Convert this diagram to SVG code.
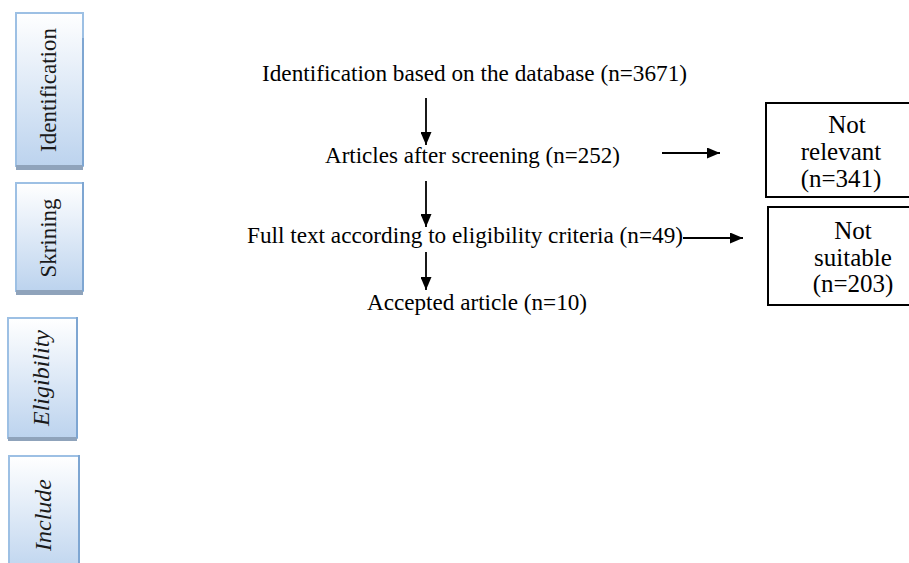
<svg xmlns="http://www.w3.org/2000/svg" width="909" height="563" viewBox="0 0 909 563">
  <defs>
    <linearGradient id="phaseFill" x1="0" y1="0" x2="0" y2="1">
      <stop offset="0" stop-color="#ffffff"/>
      <stop offset="1" stop-color="#bcd3ee"/>
    </linearGradient>
    <marker id="arrowHead" viewBox="0 0 13 11" refX="13" refY="5.5" markerWidth="13" markerHeight="11" markerUnits="userSpaceOnUse" orient="auto">
      <path d="M0,0 L13,5.5 L0,11 Z" fill="#000"/>
    </marker>
  </defs>
  <style>
    .phase { fill: url(#phaseFill); stroke: #9dc0e4; stroke-width: 2; }
    .phase-shadow { fill: #8fa3bb; }
    .phase-edge { stroke: #7ea6d2; stroke-width: 2; }
    .phase-label { font-family: "Liberation Serif", "Times New Roman", serif; font-size: 23px; fill: #1a1a1a; text-anchor: middle; }
    .italic { font-style: italic; font-size: 24px; }
    .step { font-family: "Liberation Serif", "Times New Roman", serif; font-size: 23px; fill: #000; }
    .excl { fill: #fff; stroke: #000; stroke-width: 2; }
    .excl-text { font-family: "Liberation Serif", "Times New Roman", serif; font-size: 25px; fill: #000; text-anchor: middle; }
    .flow { stroke: #000; stroke-width: 1.8; fill: none; marker-end: url(#arrowHead); }
  </style>
  <rect width="909" height="563" fill="#ffffff"/>

  <!-- phase labels down the left side -->
  <g id="phase-identification">
    <rect class="phase" x="16" y="13" width="67" height="153"/>
    <rect class="phase-shadow" x="16" y="165" width="67" height="5"/>
    <line class="phase-edge" x1="83" y1="38" x2="83" y2="166"/>
    <text class="phase-label" transform="translate(56,90) rotate(-90)">Identification</text>
  </g>
  <g id="phase-skrining">
    <rect class="phase" x="16" y="183" width="67" height="108"/>
    <rect class="phase-shadow" x="16" y="290" width="67" height="5"/>
    <line class="phase-edge" x1="83" y1="182" x2="83" y2="291"/>
    <text class="phase-label" transform="translate(56,238) rotate(-90)">Skrining</text>
  </g>
  <g id="phase-eligibility">
    <rect class="phase" x="8" y="318" width="69" height="120"/>
    <rect class="phase-shadow" x="8" y="437" width="69" height="4"/>
    <line class="phase-edge" x1="77" y1="317" x2="77" y2="438"/>
    <text class="phase-label italic" transform="translate(49,378) rotate(-90)">Eligibility</text>
  </g>
  <g id="phase-include">
    <rect class="phase" x="9" y="456" width="70" height="120"/>
    <line class="phase-edge" x1="79" y1="455" x2="79" y2="563"/>
    <text class="phase-label italic" transform="translate(51,515) rotate(-90)">Include</text>
  </g>

  <!-- flow steps -->
  <g id="step-database">
    <text class="step" x="262" y="81" textLength="425" lengthAdjust="spacingAndGlyphs">Identification based on the database (n=3671)</text>
  </g>
  <g id="step-screening">
    <text class="step" x="325" y="163" textLength="295" lengthAdjust="spacingAndGlyphs">Articles after screening (n=252)</text>
  </g>
  <g id="step-fulltext">
    <text class="step" x="247" y="243" textLength="436" lengthAdjust="spacingAndGlyphs">Full text according to eligibility criteria (n=49)</text>
  </g>
  <g id="step-accepted">
    <text class="step" x="367" y="310" textLength="220" lengthAdjust="spacingAndGlyphs">Accepted article (n=10)</text>
  </g>

  <!-- exclusion boxes -->
  <g id="excluded-not-relevant">
    <rect class="excl" x="766" y="103" width="160" height="94"/>
    <text class="excl-text" x="847" y="133">Not</text>
    <text class="excl-text" x="841" y="160">relevant</text>
    <text class="excl-text" x="841" y="187">(n=341)</text>
  </g>
  <g id="excluded-not-suitable">
    <rect class="excl" x="768" y="207" width="160" height="98"/>
    <text class="excl-text" x="853" y="239">Not</text>
    <text class="excl-text" x="853" y="266">suitable</text>
    <text class="excl-text" x="853" y="292">(n=203)</text>
  </g>

  <!-- connectors -->
  <g id="connectors">
    <line class="flow" x1="426" y1="98" x2="426" y2="145"/>
    <line class="flow" x1="426" y1="181" x2="426" y2="227"/>
    <line class="flow" x1="426" y1="252" x2="426" y2="290"/>
    <line class="flow" x1="662" y1="153" x2="720" y2="153"/>
    <line class="flow" x1="683" y1="238" x2="743" y2="238"/>
  </g>
</svg>
